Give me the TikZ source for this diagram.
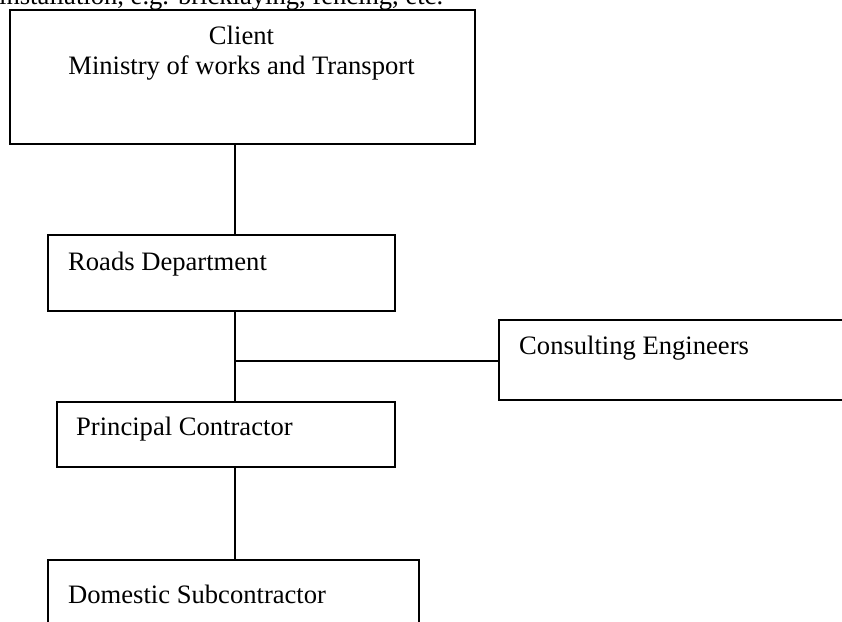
\documentclass[tikz,border=0pt]{standalone}
\usepackage{fontspec}
\setmainfont{Liberation Serif}
\begin{document}
\begin{tikzpicture}[x=1pt,y=1pt,
  box/.style={draw=black,line width=1.5pt,rectangle,inner sep=0pt,anchor=north west},
  lbl/.style={anchor=base west,inner sep=0pt,font=\fontsize{26.6}{30}\selectfont},
  conn/.style={draw=black,line width=1.5pt}]
\useasboundingbox (0,0) rectangle (842,-621);
\clip (0,0) rectangle (842,-621);
\fill[white] (0,0) rectangle (842,-621);
\coordinate (spine) at (235,0);
% boxes
\node[box,minimum width=465pt,minimum height=134pt] (client) at (9,-9) {};
\node[box,minimum width=347pt,minimum height=76pt] (roads) at (47,-234) {};
\node[box,minimum width=360pt,minimum height=80pt] (consult) at (498,-319) {};
\node[box,minimum width=338pt,minimum height=65pt] (principal) at (56,-401) {};
\node[box,minimum width=371pt,minimum height=90pt] (domestic) at (47,-559) {};
% texts
\node[lbl] (toptext) at (-1,-5) {installation, e.g. bricklaying, fencing, etc.};
\node[anchor=base,inner sep=0pt,font=\fontsize{26.6}{30}\selectfont] (clientA) at (241.5,-44) {Client};
\node[anchor=base,inner sep=0pt,font=\fontsize{26.6}{30}\selectfont] (clientB) at (241.5,-74) {Ministry of works and Transport};
\node[lbl] (roadsT) at (68,-270) {Roads Department};
\node[lbl] (consultT) at (519,-354) {Consulting Engineers};
\node[lbl] (principalT) at (76,-435) {Principal Contractor};
\node[lbl] (domesticT) at (68,-603) {Domestic Subcontractor};
% connectors
\draw[conn] (client.south -| spine) -- (roads.north -| spine);
\draw[conn] (roads.south -| spine) -- (principal.north -| spine);
\draw[conn] (consult.west |- 0,-361) -- (spine |- 0,-361);
\draw[conn] (principal.south -| spine) -- (domestic.north -| spine);
\end{tikzpicture}
\end{document}
